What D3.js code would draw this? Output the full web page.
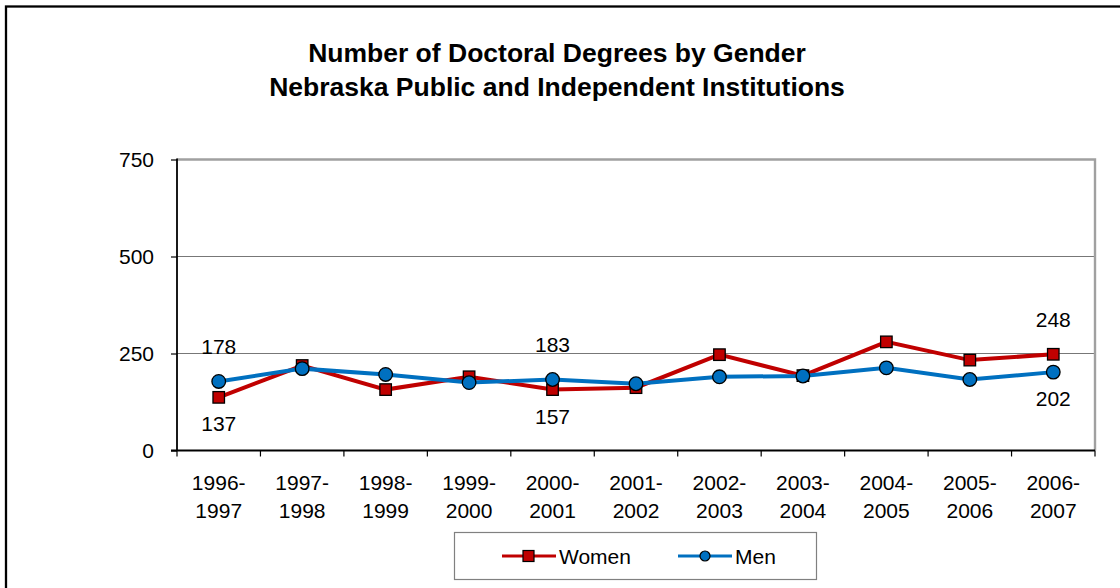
<!DOCTYPE html>
<html><head><meta charset="utf-8">
<script src="https://cdn.jsdelivr.net/npm/d3@7/dist/d3.min.js"></script>
<style>body{margin:0;background:#fff}svg{display:block}text{font-family:"Liberation Sans",Arial,sans-serif}</style>
</head><body>
<svg id="c" width="1120" height="588"></svg>
<script>
const categories = ["1996-1997","1997-1998","1998-1999","1999-2000","2000-2001","2001-2002","2002-2003","2003-2004","2004-2005","2005-2006","2006-2007"];
const women = [137, 219, 157, 190, 157, 162, 247, 193, 280, 233, 248];
const men = [178, 211, 196, 175, 183, 172, 190, 192, 213, 183, 202];
const yTicks = [0, 250, 500, 750];
const titleLines = ["Number of Doctoral Degrees by Gender", "Nebraska Public and Independent Institutions"];
const labeledIdx = [0, 4, 10];

const svg = d3.select("#c");
const plot = {l: 177, r: 1095, t: 159.5, b: 450.5};
const cRed = "#C00000", cBlue = "#0070C0";
const fs = 21;

// outer border
svg.append("rect").attr("x", 6).attr("y", 6.5).attr("width", 1140).attr("height", 620)
  .attr("fill", "none").attr("stroke", "#000").attr("stroke-width", 2.3);

// title
svg.append("g").selectAll("text").data(titleLines).join("text")
  .attr("x", 557).attr("y", (d, i) => 62 + i * 34)
  .attr("text-anchor", "middle").attr("font-weight", "bold").attr("font-size", 26.5)
  .text(d => d);

const x = d3.scaleBand().domain(categories).range([plot.l, plot.r]);
const y = d3.scaleLinear().domain([0, 750]).range([plot.b, plot.t]);

// gridlines
svg.append("g").selectAll("line").data(yTicks.filter(v => v > 0 && v < 750)).join("line")
  .attr("x1", plot.l).attr("x2", plot.r).attr("y1", d => y(d)).attr("y2", d => y(d))
  .attr("stroke", "#777").attr("stroke-width", 1.2);
// plot border top/right
svg.append("path").attr("d", `M${plot.l},${y(750)}H${plot.r}V${plot.b}`)
  .attr("fill", "none").attr("stroke", "#a0a0a0").attr("stroke-width", 2.4);

// y axis
const yAxis = svg.append("g").attr("transform", `translate(${plot.l},0)`)
  .call(d3.axisLeft(y).tickValues(yTicks).tickSize(6).tickPadding(17));
yAxis.select(".domain").attr("stroke", "#000").attr("stroke-width", 1.8).attr("d", `M0,${plot.t - 1}V${plot.b}`);
yAxis.selectAll(".tick line").attr("stroke", "#000").attr("stroke-width", 1.2);
yAxis.selectAll(".tick text").attr("font-size", fs).attr("font-family", "Liberation Sans, Arial, sans-serif").attr("fill", "#000");

// x axis
const xg = svg.append("g").attr("transform", `translate(0,${plot.b})`);
xg.append("line").attr("x1", plot.l - 6).attr("x2", plot.r).attr("stroke", "#000").attr("stroke-width", 1.8);
const bounds = categories.map(c => x(c)).concat([plot.r]);
xg.selectAll("line.tk").data(bounds).join("line").attr("class", "tk")
  .attr("x1", d => d).attr("x2", d => d).attr("y1", 0).attr("y2", 6).attr("stroke", "#000").attr("stroke-width", 1.2);
const xl = xg.selectAll("text.xl").data(categories).join("text").attr("class", "xl")
  .attr("text-anchor", "middle").attr("font-size", fs);
xl.append("tspan").attr("x", d => x(d) + x.bandwidth() / 2).attr("y", 39.5).text(d => d.split("-")[0] + "-");
xl.append("tspan").attr("x", d => x(d) + x.bandwidth() / 2).attr("y", 67).text(d => d.split("-")[1]);

const cx = i => x(categories[i]) + x.bandwidth() / 2;
const line = d3.line().x((d, i) => cx(i)).y(d => y(d));

svg.append("path").datum(women).attr("d", line).attr("fill", "none").attr("stroke", cRed).attr("stroke-width", 4);
svg.append("path").datum(men).attr("d", line).attr("fill", "none").attr("stroke", cBlue).attr("stroke-width", 4);

const sq = 11.5;
svg.append("g").selectAll("rect").data(women).join("rect")
  .attr("x", (d, i) => cx(i) - sq / 2).attr("y", d => y(d) - sq / 2).attr("width", sq).attr("height", sq)
  .attr("fill", cRed).attr("stroke", "#000").attr("stroke-width", 1.3);
svg.append("g").selectAll("circle").data(men).join("circle")
  .attr("cx", (d, i) => cx(i)).attr("cy", d => y(d)).attr("r", 6.8)
  .attr("fill", cBlue).attr("stroke", "#000").attr("stroke-width", 1.3);

// data labels
const lab = svg.append("g").attr("font-size", fs).attr("text-anchor", "middle");
labeledIdx.forEach(i => {
  const hi = Math.max(women[i], men[i]), lo = Math.min(women[i], men[i]);
  lab.append("text").attr("x", cx(i)).attr("y", y(hi) - 27).text(hi);
  lab.append("text").attr("x", cx(i)).attr("y", y(lo) + 34).text(lo);
});

// legend
const lg = svg.append("g");
lg.append("rect").attr("x", 454.5).attr("y", 532.5).attr("width", 362).attr("height", 47)
  .attr("fill", "#fff").attr("stroke", "#808080").attr("stroke-width", 1.2);
const items = [{name: "Women", c: cRed, x0: 502, sym: "sq"}, {name: "Men", c: cBlue, x0: 678, sym: "ci"}];
const ly = 556;
items.forEach(it => {
  lg.append("line").attr("x1", it.x0).attr("x2", it.x0 + 54).attr("y1", ly).attr("y2", ly).attr("stroke", it.c).attr("stroke-width", 3);
  if (it.sym === "sq") lg.append("rect").attr("x", it.x0 + 26.5 - 5.5).attr("y", ly - 5.5).attr("width", 11).attr("height", 11).attr("fill", it.c).attr("stroke", "#000").attr("stroke-width", 1.2);
  else lg.append("circle").attr("cx", it.x0 + 27).attr("cy", ly).attr("r", 5).attr("fill", it.c).attr("stroke", "#000").attr("stroke-width", 1.2);
  lg.append("text").attr("x", it.x0 + 57).attr("y", ly + 8).attr("font-size", fs).text(it.name);
});
</script>
</body></html>
